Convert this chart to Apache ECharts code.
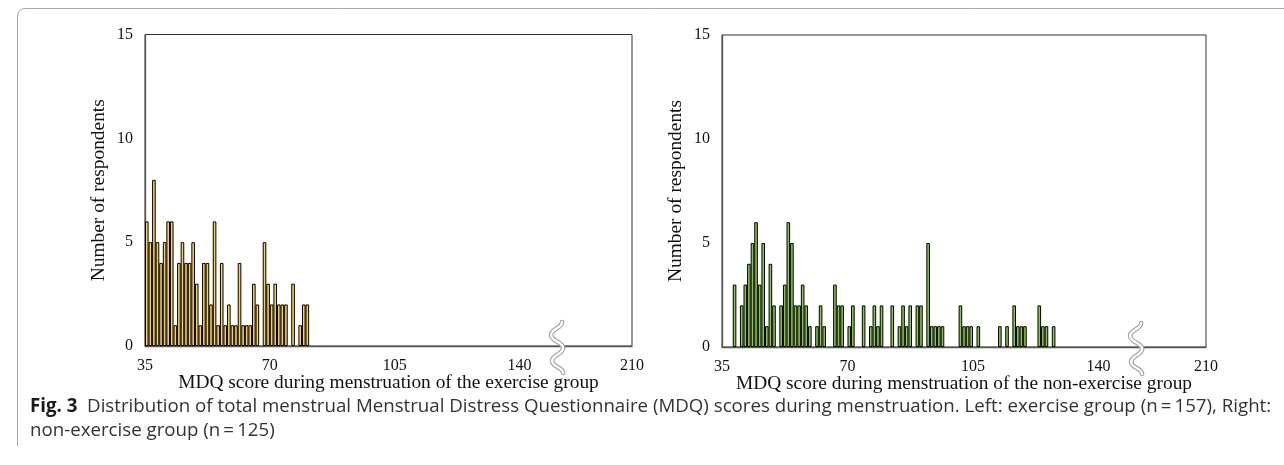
<!DOCTYPE html>
<html><head><meta charset="utf-8">
<script src="https://cdn.jsdelivr.net/npm/echarts@6/dist/echarts.min.js"></script>
<style>html,body{margin:0;padding:0;background:#fff}#c{width:1284px;height:465px}</style>
</head><body><div id="c"></div>
<script>
// ---- data ----
const xTickValues = [35, 70, 105, 140];
const xEndLabel = '210';
const yTicks = [0, 5, 10, 15];

const exScores = [35,36,37,38,39,40,41,42,43,44,45,46,47,48,49,50,51,52,53,54,55,56,57,58,59,60,61,62,63,64,65,66,68,69,70,71,72,73,74,76,78,79,80];
const exCounts = [6,5,8,5,4,5,6,6,1,4,5,4,4,5,3,1,4,4,2,6,1,4,1,2,1,1,4,1,1,1,3,2,5,3,2,3,2,2,2,3,1,2,2];

const nonScores = [38,40,41,42,43,44,45,46,47,48,49,51,52,53,54,55,56,57,58,59,61,62,63,66,67,68,70,71,74,76,77,78,79,82,84,85,86,87,89,90,92,93,94,95,96,101,102,103,104,106,112,114,116,117,118,119,123,124,125,127];
const nonCounts = [3,2,3,4,5,6,3,5,1,4,2,2,3,6,5,2,2,3,2,1,1,2,1,3,2,2,1,2,2,1,2,1,2,2,1,2,1,2,2,2,5,1,1,1,1,2,1,1,1,1,1,1,2,1,1,1,2,1,1,1];

const xTitles = ['MDQ score during menstruation of the exercise group', 'MDQ score during menstruation of the non-exercise group'];
const yTitle = 'Number of respondents';
const captionBold = 'Fig. 3';
const captionLine1 = '  Distribution of total menstrual Menstrual Distress Questionnaire (MDQ) scores during menstruation. Left: exercise group (n\u2009=\u2009157), Right:';
const captionLine2 = 'non-exercise group (n\u2009=\u2009125)';

// ---- chart ----
const serif = '"Liberation Serif", "Times New Roman", serif';
const sans = '"Open Sans", "Noto Sans", sans-serif';
const chart = echarts.init(document.getElementById('c'), null, {renderer: 'canvas'});

const grids = [
  {left: 145, top: 34.5, right: 652, bottom: 119},
  {left: 722, top: 35, right: 78, bottom: 118}
];
const xMax = [171.5, 170];

function xAxis(i) {
  return {
    type: 'value', gridIndex: i, min: 35, max: xMax[i], interval: 35,
    name: xTitles[i], nameLocation: 'middle', nameGap: 27, nameMoveOverlap: false,
    nameTextStyle: {fontFamily: serif, fontSize: 19.4, color: '#111', verticalAlign: 'top'},
    axisLine: {show: true, lineStyle: {color: '#555', width: 1.3}},
    axisTick: {show: false},
    splitLine: {show: false},
    axisLabel: {
      fontFamily: serif, fontSize: 16, color: '#111', margin: 12,
      showMinLabel: true, showMaxLabel: true,
      formatter: v => (v > xTickValues[xTickValues.length - 1] + 1 ? xEndLabel : String(v))
    }
  };
}
function yAxis(i) {
  return {
    type: 'value', gridIndex: i, min: yTicks[0], max: yTicks[yTicks.length - 1], interval: yTicks[1] - yTicks[0],
    name: yTitle, nameLocation: 'middle', nameGap: 37, nameMoveOverlap: false,
    nameTextStyle: {fontFamily: serif, fontSize: 19.4, color: '#111'},
    axisLine: {show: true, lineStyle: {color: '#555', width: 1.3}},
    axisTick: {show: false},
    splitLine: {show: false},
    axisLabel: {fontFamily: serif, fontSize: 16, color: '#111', margin: 12}
  };
}
function series(i, scores, counts, color) {
  return {
    type: 'bar', xAxisIndex: i, yAxisIndex: i,
    data: scores.map((s, k) => [s + 0.5, counts[k]]),
    barWidth: 3.6,
    itemStyle: {color: color, borderColor: '#000', borderWidth: 1},
    emphasis: {disabled: true},
    silent: true
  };
}

chart.setOption({
  animation: false,
  backgroundColor: '#fff',
  grid: grids.map(g => Object.assign({show: true, borderColor: '#333', borderWidth: 1, backgroundColor: 'transparent'}, g)),
  xAxis: [xAxis(0), xAxis(1)],
  yAxis: [yAxis(0), yAxis(1)],
  series: [
    series(0, exScores, exCounts, '#FAD063'),
    series(1, nonScores, nonCounts, '#8AC650')
  ]
});

// decorations: axis-break marks, frame and caption
function breakMark(gridIndex) {
  const p = chart.convertToPixel({gridIndex: gridIndex}, [150.5, 0]);
  const cx = p[0], cy = p[1];
  const pts = [[5, -24], [-6, -11], [6, 2], [-5, 15], [6, 27]];
  const out = [];
  [['#a0a0a0', 4.6, 100], ['#ffffff', 2.4, 101]].forEach(function (st) {
    for (let k = 1; k < pts.length; k++) {
      const x0 = cx + pts[k - 1][0], y0 = cy + pts[k - 1][1];
      const x1 = cx + pts[k][0], y1 = cy + pts[k][1];
      const h = (y1 - y0) / 2;
      out.push({
        type: 'bezierCurve', silent: true, z: st[2],
        shape: {x1: x0, y1: y0, cpx1: x0, cpy1: y0 + h, cpx2: x1, cpy2: y1 - h, x2: x1, y2: y1},
        style: {fill: null, stroke: st[0], lineWidth: st[1], lineCap: 'round'}
      });
    }
  });
  return out;
}

chart.setOption({
  graphic: [].concat(
    breakMark(0), breakMark(1),
    [
      {type: 'polyline', silent: true, z: 50,
        shape: {points: [[17.5, 446], [17.5, 16], [18.1, 13], [19.7, 10.6], [22, 9.1], [25, 8.5], [1284, 8.5]]},
        style: {fill: null, stroke: '#a8a8a8', lineWidth: 1}},
      {type: 'text', left: 30, top: 397, z: 60, silent: true,
        style: {
          text: '{b|' + captionBold + '}{n|' + captionLine1 + '}',
          rich: {
            b: {fontFamily: sans, fontSize: 18.7, fontWeight: 'bold', fill: '#1a1a1a'},
            n: {fontFamily: sans, fontSize: 18.7, fill: '#333'}
          }
        }},
      {type: 'text', left: 30, top: 421, z: 60, silent: true,
        style: {text: captionLine2, fontFamily: sans, fontSize: 18.7, fill: '#333'}}
    ]
  )
});
</script>
</body></html>
